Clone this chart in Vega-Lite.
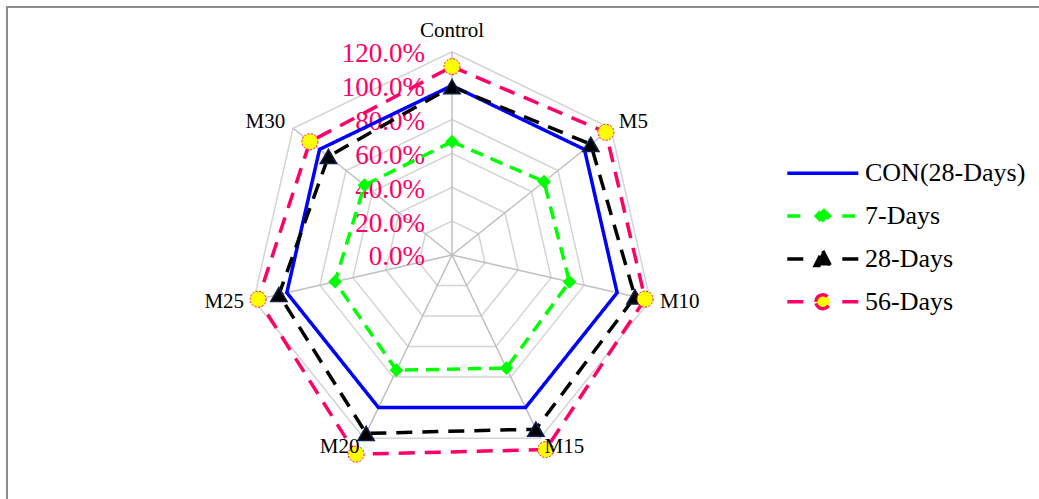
{
  "$schema": "https://vega.github.io/schema/vega-lite/v6.json",
  "width": 1032,
  "height": 492,
  "autosize": "none",
  "padding": {"left": 7, "top": 7, "right": 0, "bottom": 0},
  "background": "white",
  "config": {
    "view": {"stroke": "#8c8c8c", "strokeWidth": 2, "strokeDash": [1032, 1524, 492, 20]},
    "font": "Liberation Serif"
  },
  "datasets": {
    "scores": [
      {"series": "CON(28-Days)", "axis": "Control", "value": 1.0},
      {"series": "CON(28-Days)", "axis": "M5", "value": 1.0},
      {"series": "CON(28-Days)", "axis": "M10", "value": 1.0},
      {"series": "CON(28-Days)", "axis": "M15", "value": 1.0},
      {"series": "CON(28-Days)", "axis": "M20", "value": 1.0},
      {"series": "CON(28-Days)", "axis": "M25", "value": 1.0},
      {"series": "CON(28-Days)", "axis": "M30", "value": 1.0},
      {"series": "7-Days", "axis": "Control", "value": 0.669},
      {"series": "7-Days", "axis": "M5", "value": 0.695},
      {"series": "7-Days", "axis": "M10", "value": 0.711},
      {"series": "7-Days", "axis": "M15", "value": 0.741},
      {"series": "7-Days", "axis": "M20", "value": 0.755},
      {"series": "7-Days", "axis": "M25", "value": 0.708},
      {"series": "7-Days", "axis": "M30", "value": 0.661},
      {"series": "28-Days", "axis": "Control", "value": 0.994},
      {"series": "28-Days", "axis": "M5", "value": 1.048},
      {"series": "28-Days", "axis": "M10", "value": 1.108},
      {"series": "28-Days", "axis": "M15", "value": 1.141},
      {"series": "28-Days", "axis": "M20", "value": 1.169},
      {"series": "28-Days", "axis": "M25", "value": 1.048},
      {"series": "28-Days", "axis": "M30", "value": 0.933},
      {"series": "56-Days", "axis": "Control", "value": 1.112},
      {"series": "56-Days", "axis": "M5", "value": 1.162},
      {"series": "56-Days", "axis": "M10", "value": 1.169},
      {"series": "56-Days", "axis": "M15", "value": 1.275},
      {"series": "56-Days", "axis": "M20", "value": 1.305},
      {"series": "56-Days", "axis": "M25", "value": 1.174},
      {"series": "56-Days", "axis": "M30", "value": 1.073}
    ],
    "rings": [
      {"level": 0, "axis": ["Control", "M5", "M10", "M15", "M20", "M25", "M30"]},
      {"level": 0.2, "axis": ["Control", "M5", "M10", "M15", "M20", "M25", "M30"]},
      {"level": 0.4, "axis": ["Control", "M5", "M10", "M15", "M20", "M25", "M30"]},
      {"level": 0.6, "axis": ["Control", "M5", "M10", "M15", "M20", "M25", "M30"]},
      {"level": 0.8, "axis": ["Control", "M5", "M10", "M15", "M20", "M25", "M30"]},
      {"level": 1.0, "axis": ["Control", "M5", "M10", "M15", "M20", "M25", "M30"]},
      {"level": 1.2, "axis": ["Control", "M5", "M10", "M15", "M20", "M25", "M30"]}
    ]
  },
  "encoding": {
    "x": {"field": "px", "type": "quantitative", "scale": {"domain": [-2.6269, 3.4652], "nice": false, "zero": false}, "axis": null},
    "y": {"field": "py", "type": "quantitative", "scale": {"domain": [-1.4404, 1.464], "nice": false, "zero": false}, "axis": null}
  },
  "layer": [
    {
      "data": {"name": "rings"},
      "transform": [
        {"flatten": ["axis"]},
        {"filter": "datum.level > 0"},
        {"calculate": "indexof(['Control','M5','M10','M15','M20','M25','M30'], datum.axis)", "as": "k"},
        {"calculate": "datum.level * sin(2 * PI * datum.k / 7)", "as": "px"},
        {"calculate": "datum.level * cos(2 * PI * datum.k / 7)", "as": "py"}
      ],
      "mark": {"type": "line", "interpolate": "linear-closed", "stroke": "#D4D4D4", "strokeWidth": 1.5},
      "encoding": {
        "detail": {"field": "level", "type": "nominal"},
        "order": {"field": "k", "type": "quantitative"}
      }
    },
    {
      "data": {"name": "rings"},
      "transform": [
        {"flatten": ["axis"]},
        {"filter": "datum.level == 1.2"},
        {"calculate": "indexof(['Control','M5','M10','M15','M20','M25','M30'], datum.axis)", "as": "k"},
        {"calculate": "datum.level * sin(2 * PI * datum.k / 7)", "as": "px"},
        {"calculate": "datum.level * cos(2 * PI * datum.k / 7)", "as": "py"}
      ],
      "mark": {"type": "rule", "stroke": "#BFBFBF", "strokeWidth": 1.5},
      "encoding": {
        "x2": {"datum": 0},
        "y2": {"datum": 0}
      }
    },
    {
      "data": {"name": "rings"},
      "transform": [
        {"flatten": ["axis"]},
        {"filter": "datum.axis == 'Control'"},
        {"calculate": "0", "as": "k"},
        {"calculate": "datum.level * sin(2 * PI * datum.k / 7)", "as": "px"},
        {"calculate": "datum.level * cos(2 * PI * datum.k / 7)", "as": "py"}
      ],
      "mark": {"type": "text", "align": "right", "baseline": "middle", "dx": -27, "dy": 2.5, "font": "Liberation Serif", "fontSize": 27, "fill": "#FF0066"},
      "encoding": {
        "text": {"field": "level", "type": "quantitative", "format": ".1%"}
      }
    },
    {
      "data": {"name": "scores"},
      "transform": [
        {"calculate": "indexof(['Control','M5','M10','M15','M20','M25','M30'], datum.axis)", "as": "k"},
        {"calculate": "datum.value * sin(2 * PI * datum.k / 7)", "as": "px"},
        {"calculate": "datum.value * cos(2 * PI * datum.k / 7)", "as": "py"}
      ],
      "mark": {"type": "line", "interpolate": "linear-closed", "strokeWidth": 3.5},
      "encoding": {
        "color": {
          "field": "series",
          "type": "nominal",
          "scale": {"domain": ["CON(28-Days)", "7-Days", "28-Days", "56-Days"], "range": ["#0000FF", "#00FF00", "#000000", "#FF0066"]},
          "legend": {
            "orient": "none",
            "legendX": 777.8,
            "legendY": 153.3,
            "direction": "vertical",
            "title": null,
            "padding": 0,
            "labelFont": "Liberation Serif",
            "labelFontSize": 26,
            "labelColor": "#000000",
            "labelOffset": 29.2,
            "labelLimit": 400,
            "clipHeight": 26,
            "rowPadding": 16.8,
            "symbolSize": 4,
            "symbolStrokeWidth": 3.5,
            "symbolOffset": 25,
            "encode": {
              "symbols": {
                "update": {
                  "shape": {"signal": "datum.value === 'CON(28-Days)' ? 'M-35.5,0H35.5' : datum.value === '7-Days' ? 'M-35.5,0H-19.5M0,-6.5L6.5,0L0,6.5L-6.5,0ZM19.5,0H35.5' : datum.value === '28-Days' ? 'M-35.5,0H-19.5M0,-8L7.5,6.5L-7.5,6.5ZM19.5,0H35.5' : 'M-35.5,0H-19.5M-7,0A7,7,0,1,1,7,0A7,7,0,1,1,-7,0ZM19.5,0H35.5'"},
                  "fill": {"signal": "datum.value === '7-Days' ? '#00FF00' : datum.value === '28-Days' ? '#000000' : datum.value === '56-Days' ? '#FFFF00' : 'transparent'"},
                  "stroke": {"signal": "datum.value === 'CON(28-Days)' ? '#0000FF' : datum.value === '7-Days' ? '#00FF00' : datum.value === '28-Days' ? '#000000' : '#FF0066'"},
                  "size": {"value": 4},
                  "strokeWidth": {"value": 3.5},
                  "strokeDash": {"value": [1, 0]},
                  "opacity": {"value": 1}
                }
              }
            }
          }
        },
        "strokeDash": {
          "field": "series",
          "type": "nominal",
          "scale": {"domain": ["CON(28-Days)", "7-Days", "28-Days", "56-Days"], "range": [[1, 0], [13, 8], [16, 10], [16, 10]]},
          "legend": null
        },
        "order": {"field": "k", "type": "quantitative"}
      }
    },
    {
      "data": {"name": "scores"},
      "transform": [
        {"filter": "datum.series == '7-Days'"},
        {"calculate": "indexof(['Control','M5','M10','M15','M20','M25','M30'], datum.axis)", "as": "k"},
        {"calculate": "datum.value * sin(2 * PI * datum.k / 7)", "as": "px"},
        {"calculate": "datum.value * cos(2 * PI * datum.k / 7)", "as": "py"}
      ],
      "mark": {"type": "point", "shape": "diamond", "size": 190, "filled": true, "fill": "#00FF00", "strokeWidth": 0, "opacity": 1}
    },
    {
      "data": {"name": "scores"},
      "transform": [
        {"filter": "datum.series == '28-Days'"},
        {"calculate": "indexof(['Control','M5','M10','M15','M20','M25','M30'], datum.axis)", "as": "k"},
        {"calculate": "datum.value * sin(2 * PI * datum.k / 7)", "as": "px"},
        {"calculate": "datum.value * cos(2 * PI * datum.k / 7)", "as": "py"}
      ],
      "mark": {"type": "point", "shape": "triangle-up", "size": 270, "filled": true, "fill": "#000000", "stroke": "#10204A", "strokeWidth": 1.5, "opacity": 1}
    },
    {
      "data": {"name": "scores"},
      "transform": [
        {"filter": "datum.series == '56-Days'"},
        {"calculate": "indexof(['Control','M5','M10','M15','M20','M25','M30'], datum.axis)", "as": "k"},
        {"calculate": "datum.value * sin(2 * PI * datum.k / 7)", "as": "px"},
        {"calculate": "datum.value * cos(2 * PI * datum.k / 7)", "as": "py"}
      ],
      "mark": {"type": "point", "shape": "circle", "size": 256, "filled": true, "fill": "#FFFF00", "stroke": "#FF0066", "strokeWidth": 1, "strokeDash": [2, 1.5], "opacity": 1}
    },
    {
      "data": {"name": "rings"},
      "transform": [
        {"flatten": ["axis"]},
        {"filter": "datum.level == 1.2 && datum.axis == 'Control'"},
        {"calculate": "0", "as": "k"},
        {"calculate": "(datum.level + 0.059) * sin(2 * PI * datum.k / 7)", "as": "px"},
        {"calculate": "(datum.level + 0.059) * cos(2 * PI * datum.k / 7)", "as": "py"}
      ],
      "mark": {"type": "text", "align": "center", "baseline": "alphabetic", "dy": -4.5, "font": "Liberation Serif", "fontSize": 21, "fill": "#000000"},
      "encoding": {"text": {"field": "axis", "type": "nominal"}}
    },
    {
      "data": {"name": "rings"},
      "transform": [
        {"flatten": ["axis"]},
        {"filter": "datum.level == 1.2"},
        {"calculate": "indexof(['Control','M5','M10','M15','M20','M25','M30'], datum.axis)", "as": "k"},
        {"filter": "datum.k >= 1 && datum.k <= 3"},
        {"calculate": "(datum.level + 0.059) * sin(2 * PI * datum.k / 7)", "as": "px"},
        {"calculate": "(datum.level + 0.059) * cos(2 * PI * datum.k / 7)", "as": "py"}
      ],
      "mark": {"type": "text", "align": "left", "baseline": "middle", "font": "Liberation Serif", "fontSize": 21, "fill": "#000000"},
      "encoding": {"text": {"field": "axis", "type": "nominal"}}
    },
    {
      "data": {"name": "rings"},
      "transform": [
        {"flatten": ["axis"]},
        {"filter": "datum.level == 1.2"},
        {"calculate": "indexof(['Control','M5','M10','M15','M20','M25','M30'], datum.axis)", "as": "k"},
        {"filter": "datum.k >= 4"},
        {"calculate": "(datum.level + 0.059) * sin(2 * PI * datum.k / 7)", "as": "px"},
        {"calculate": "(datum.level + 0.059) * cos(2 * PI * datum.k / 7)", "as": "py"}
      ],
      "mark": {"type": "text", "align": "right", "baseline": "middle", "font": "Liberation Serif", "fontSize": 21, "fill": "#000000"},
      "encoding": {"text": {"field": "axis", "type": "nominal"}}
    }
  ]
}
